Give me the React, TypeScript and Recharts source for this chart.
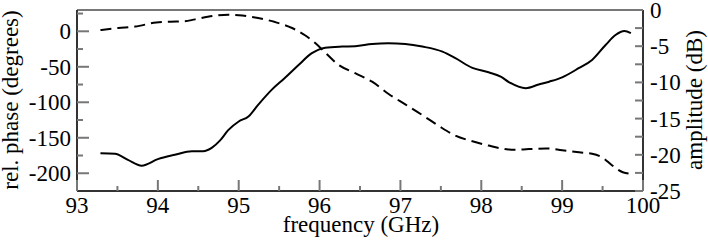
import { LineChart, Line, XAxis, YAxis } from 'recharts';

// rel. phase (degrees), dashed, left axis
const phaseFreq = [93.29, 93.51, 93.72, 93.98, 94.15, 94.33, 94.46, 94.71, 94.87, 95.0, 95.24, 95.45, 95.66, 95.82, 95.95, 96.07, 96.23, 96.44, 96.65, 96.85, 97.06, 97.27, 97.47, 97.68, 97.89, 98.09, 98.24, 98.38, 98.59, 98.8, 99.0, 99.21, 99.37, 99.5, 99.62, 99.75, 99.85];
const phaseDeg = [1.8, 4.6, 6.6, 12.5, 13.5, 14, 16.8, 22, 23.4, 22.6, 18.6, 13, 4.6, -5.6, -17, -30, -47, -59, -71, -88, -103, -118, -133, -147, -155, -161, -165, -167, -166, -165, -167.5, -170.5, -172.5, -178, -189, -198.5, -200.5];

// amplitude (dB), solid, right axis
const ampFreq = [93.29, 93.47, 93.63, 93.8, 94.0, 94.21, 94.42, 94.56, 94.67, 94.77, 94.87, 95.0, 95.12, 95.24, 95.41, 95.57, 95.74, 95.9, 96.07, 96.28, 96.44, 96.65, 96.85, 97.06, 97.27, 97.52, 97.68, 97.89, 98.09, 98.24, 98.34, 98.55, 98.71, 98.84, 99.0, 99.21, 99.37, 99.54, 99.66, 99.77, 99.85];
const ampDb = [-19.8, -19.85, -20.7, -21.5, -20.6, -20.0, -19.5, -19.5, -19.0, -18.0, -16.6, -15.4, -14.7, -13.1, -11.0, -9.4, -7.6, -6.0, -5.2, -5.05, -5.0, -4.7, -4.6, -4.7, -5.05, -5.75, -6.65, -8.0, -8.6, -9.2, -9.95, -10.8, -10.3, -9.9, -9.3, -8.0, -6.9, -4.8, -3.45, -2.9, -3.2];

const freqTicks = [93, 93.5, 94, 94.5, 95, 95.5, 96, 96.5, 97, 97.5, 98, 98.5, 99, 99.5, 100];
const phaseTicks = [-200, -175, -150, -125, -100, -75, -50, -25, 0, 25];
const ampTicks = [-25, -22.5, -20, -17.5, -15, -12.5, -10, -7.5, -5, -2.5, 0];

const phaseData = phaseFreq.map((f, i) => ({ f, v: phaseDeg[i] }));
const ampData = ampFreq.map((f, i) => ({ f, v: ampDb[i] }));

const font = "'Liberation Serif', 'DejaVu Serif', serif";
const textStyle = { fontFamily: font, fontSize: 23 };
const tickColor = '#777';
const frame = { stroke: '#333', strokeWidth: 2 };

function BottomTick({ x, y, payload }: any) {
  const v = payload.value;
  const major = Number.isInteger(v);
  return (
    <g>
      <line x1={x} x2={x} y1={y} y2={y - (major ? 11 : 5)} stroke={tickColor} strokeWidth={2} />
      {major && (
        <text x={x} y={y + 22} textAnchor="middle" style={textStyle} fill="#000">
          {v}
        </text>
      )}
    </g>
  );
}

function TopTick({ x, y, payload }: any) {
  const major = Number.isInteger(payload.value);
  return <line x1={x} x2={x} y1={y} y2={y + (major ? 12 : 5)} stroke={tickColor} strokeWidth={2} />;
}

function LeftTick({ x, y, payload }: any) {
  const v = payload.value;
  const major = v % 50 === 0;
  return (
    <g>
      <line x1={x} x2={x + (major ? 12 : 6)} y1={y} y2={y} stroke={tickColor} strokeWidth={2} />
      {major && (
        <text x={x - 6} y={y + 8} textAnchor="end" style={textStyle} fill="#000">
          {v}
        </text>
      )}
    </g>
  );
}

function RightTick({ x, y, payload }: any) {
  const v = payload.value;
  const major = v % 5 === 0;
  return (
    <g>
      <line x1={x} x2={x - 8} y1={y} y2={y} stroke={tickColor} strokeWidth={2} />
      {major && (
        <text x={x + 7} y={y + 8} textAnchor="start" style={textStyle} fill="#000">
          {v}
        </text>
      )}
    </g>
  );
}

export default function App() {
  return (
    <div style={{ position: 'absolute', left: 0, top: 0, width: 708, height: 243 }}>
      <LineChart width={708} height={243} margin={{ top: 0, right: 0, left: 0, bottom: 0 }}>
        <XAxis
          dataKey="f"
          type="number"
          domain={[93, 100]}
          ticks={freqTicks}
          height={52}
          axisLine={frame}
          tickLine={false}
          tickSize={0}
          tickMargin={0}
          tick={<BottomTick />}
          interval={0}
          allowDataOverflow
        />
        <XAxis
          xAxisId="top"
          orientation="top"
          type="number"
          domain={[93, 100]}
          ticks={freqTicks}
          height={10}
          axisLine={{ stroke: '#777', strokeWidth: 2 }}
          tickLine={false}
          tickSize={0}
          tickMargin={0}
          tick={<TopTick />}
          interval={0}
        />
        <YAxis
          yAxisId="phase"
          type="number"
          domain={[-225, 30]}
          ticks={phaseTicks}
          width={77}
          axisLine={frame}
          tickLine={false}
          tickSize={0}
          tickMargin={0}
          tick={<LeftTick />}
          interval={0}
          allowDataOverflow
        />
        <YAxis
          yAxisId="amp"
          orientation="right"
          type="number"
          domain={[-25, 0]}
          ticks={ampTicks}
          width={65}
          axisLine={frame}
          tickLine={false}
          tickSize={0}
          tickMargin={0}
          tick={<RightTick />}
          interval={0}
          allowDataOverflow
        />
        <Line
          yAxisId="phase"
          data={phaseData}
          dataKey="v"
          type="monotone"
          stroke="#000"
          strokeWidth={2}
          strokeDasharray="11 6"
          dot={false}
          isAnimationActive={false}
        />
        <Line
          yAxisId="amp"
          data={ampData}
          dataKey="v"
          type="monotone"
          stroke="#000"
          strokeWidth={2}
          dot={false}
          isAnimationActive={false}
        />
      </LineChart>
      <svg
        width={708}
        height={243}
        style={{ position: 'absolute', left: 0, top: 0, pointerEvents: 'none' }}
      >
        <text x={361} y={232} textAnchor="middle" style={textStyle} fill="#000">
          frequency (GHz)
        </text>
        <text
          x={18}
          y={100}
          textAnchor="middle"
          style={textStyle}
          fill="#000"
          transform="rotate(-90 18 100)"
        >
          rel. phase (degrees)
        </text>
        <text
          x={702}
          y={100}
          textAnchor="middle"
          style={textStyle}
          fill="#000"
          transform="rotate(-90 702 100)"
        >
          amplitude (dB)
        </text>
      </svg>
    </div>
  );
}
